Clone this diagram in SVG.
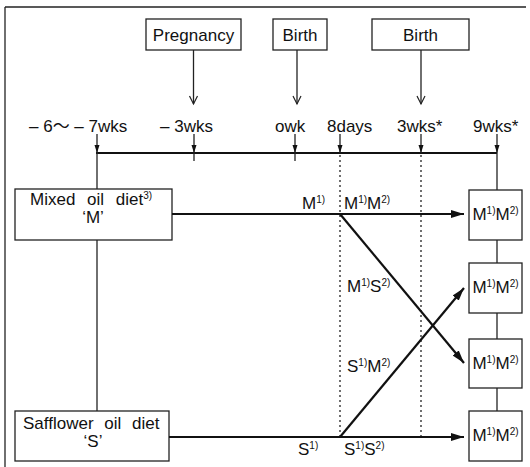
<svg xmlns="http://www.w3.org/2000/svg" width="530" height="467" viewBox="0 0 530 467">
<defs>
<style>
text{font-family:"Liberation Sans","Noto Sans CJK JP",sans-serif;font-size:17px;fill:#111}
.sup{font-size:10px}
.box{fill:#fff;stroke:#222;stroke-width:1.3}
.ln{stroke:#222;stroke-width:1.3;fill:none}
.thk{stroke:#111;stroke-width:2.2;fill:none}
.dot{stroke:#222;stroke-width:1.3;stroke-dasharray:2 3;fill:none}
</style>
<marker id="open" markerWidth="12" markerHeight="12" refX="10" refY="6" orient="auto" markerUnits="userSpaceOnUse" viewBox="0 0 12 12">
<path d="M2,2 L10,6 L2,10" fill="none" stroke="#222" stroke-width="1.2"/>
</marker>
<marker id="tick" markerWidth="10" markerHeight="8" refX="9" refY="4" orient="auto" markerUnits="userSpaceOnUse" viewBox="0 0 10 8">
<path d="M1,1.5 L9,4 L1,6.5 Z" fill="#111"/>
</marker>
<marker id="fill" markerWidth="14" markerHeight="10" refX="13" refY="5" orient="auto" markerUnits="userSpaceOnUse" viewBox="0 0 14 10">
<path d="M0,1 L13,5 L0,9 Z" fill="#111"/>
</marker>
</defs>
<rect x="0" y="0" width="530" height="467" fill="#fff"/>
<g id="frame">
<line class="ln" x1="5" y1="7" x2="526" y2="7"/>
<line class="ln" x1="5" y1="7" x2="5" y2="467"/>
</g>

<g id="pregnancy"><rect class="box" x="146" y="19" width="95" height="31"/><text x="193.5" y="41" text-anchor="middle">Pregnancy</text></g>
<g id="birth1"><rect class="box" x="273" y="19" width="54" height="31"/><text x="300" y="41" text-anchor="middle">Birth</text></g>
<g id="birth2"><rect class="box" x="372" y="19" width="97" height="31"/><text x="420.5" y="41" text-anchor="middle">Birth</text></g>

<g id="timeline-labels">
<text x="29" y="132">– 6～ – 7wks</text>
<text x="160" y="132">– 3wks</text>
<text x="275" y="132">owk</text>
<text x="327" y="132">8days</text>
<text x="397" y="132">3wks*</text>
<text x="473" y="132">9wks*</text>
</g>

<g id="mixed"><rect class="box" x="15" y="189" width="157" height="51"/>
<text x="30" y="205" word-spacing="7">Mixed oil diet<tspan class="sup" dy="-6">3)</tspan></text>
<text x="93" y="223" text-anchor="middle">‘M’</text></g>
<g id="safflower"><rect class="box" x="15" y="411" width="154" height="50"/>
<text x="23" y="429" word-spacing="6">Safflower oil diet</text>
<text x="93" y="447" text-anchor="middle">‘S’</text></g>

<g id="out1"><rect class="box" x="469" y="190" width="53" height="50"/><text x="495.5" y="220" text-anchor="middle">M<tspan class="sup" dy="-6">1)</tspan><tspan dy="6">M</tspan><tspan class="sup" dy="-6">2)</tspan></text></g>
<g id="out2"><rect class="box" x="469" y="263" width="53" height="50"/><text x="495.5" y="293" text-anchor="middle">M<tspan class="sup" dy="-6">1)</tspan><tspan dy="6">M</tspan><tspan class="sup" dy="-6">2)</tspan></text></g>
<g id="out3"><rect class="box" x="469" y="339" width="53" height="49"/><text x="495.5" y="369" text-anchor="middle">M<tspan class="sup" dy="-6">1)</tspan><tspan dy="6">M</tspan><tspan class="sup" dy="-6">2)</tspan></text></g>
<g id="out4"><rect class="box" x="469" y="411" width="53" height="50"/><text x="495.5" y="441" text-anchor="middle">M<tspan class="sup" dy="-6">1)</tspan><tspan dy="6">M</tspan><tspan class="sup" dy="-6">2)</tspan></text></g>

<g id="connectors">
<line class="ln" x1="193.5" y1="50" x2="193.5" y2="104" marker-end="url(#open)"/>
<line class="ln" x1="297" y1="50" x2="297" y2="104" marker-end="url(#open)"/>
<line class="ln" x1="421" y1="50" x2="421" y2="104" marker-end="url(#open)"/>

<line x1="96" y1="153" x2="497" y2="153" stroke="#111" stroke-width="1.8"/>
<line class="ln" x1="97" y1="134" x2="97" y2="153" marker-end="url(#tick)"/>
<line class="ln" x1="194" y1="134" x2="194" y2="153" marker-end="url(#tick)"/>
<line class="ln" x1="194" y1="153" x2="194" y2="161"/>
<line class="ln" x1="295" y1="134" x2="295" y2="153" marker-end="url(#tick)"/>
<line class="ln" x1="295" y1="153" x2="295" y2="161"/>
<line class="ln" x1="340" y1="134" x2="340" y2="153" marker-end="url(#tick)"/>
<line class="ln" x1="421" y1="134" x2="421" y2="153" marker-end="url(#tick)"/>
<line class="ln" x1="497" y1="134" x2="497" y2="153" marker-end="url(#tick)"/>

<line class="ln" x1="97" y1="153" x2="97" y2="189"/>
<line class="ln" x1="97" y1="240" x2="97" y2="411"/>
<line class="ln" x1="497" y1="153" x2="497" y2="190"/>
<line class="ln" x1="497" y1="240" x2="497" y2="263"/>
<line class="ln" x1="497" y1="313" x2="497" y2="339"/>
<line class="ln" x1="497" y1="388" x2="497" y2="411"/>

<line class="dot" x1="340" y1="155" x2="340" y2="437"/>
<line class="dot" x1="421" y1="155" x2="421" y2="437"/>

<line class="thk" x1="172" y1="214" x2="464" y2="214" marker-end="url(#fill)"/>
<line class="thk" x1="169" y1="437" x2="464" y2="437" marker-end="url(#fill)"/>
<line class="thk" x1="340" y1="214" x2="464" y2="363" marker-end="url(#fill)"/>
<line class="thk" x1="340" y1="437" x2="464" y2="288" marker-end="url(#fill)"/>
</g>

<g id="path-labels">
<text x="302" y="209">M<tspan class="sup" dy="-6">1)</tspan></text>
<text x="344" y="209">M<tspan class="sup" dy="-6">1)</tspan><tspan dy="6">M</tspan><tspan class="sup" dy="-6">2)</tspan></text>
<text x="347" y="292">M<tspan class="sup" dy="-6">1)</tspan><tspan dy="6">S</tspan><tspan class="sup" dy="-6">2)</tspan></text>
<text x="347" y="372">S<tspan class="sup" dy="-6">1)</tspan><tspan dy="6">M</tspan><tspan class="sup" dy="-6">2)</tspan></text>
<text x="298" y="455">S<tspan class="sup" dy="-6">1)</tspan></text>
<text x="344" y="455">S<tspan class="sup" dy="-6">1)</tspan><tspan dy="6">S</tspan><tspan class="sup" dy="-6">2)</tspan></text>
</g>
</svg>
